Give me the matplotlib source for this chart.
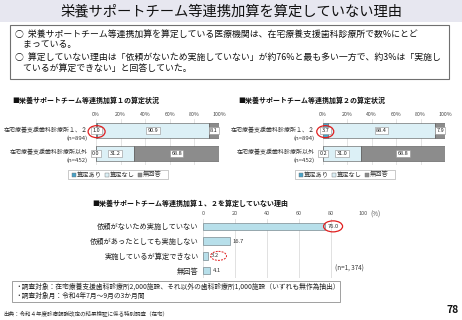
import matplotlib
matplotlib.use("Agg")
import matplotlib.pyplot as plt
from matplotlib.patches import Rectangle, Ellipse
import numpy as np

plt.rcParams['font.family'] = ['Noto Sans CJK JP', 'DejaVu Sans']

W, H = 462, 320

# ---------------- data ----------------
title = "栄養サポートチーム等連携加算を算定していない理由"
box_lines = [
    "○  栄養サポートチーム等連携加算を算定している医療機関は、在宅療養支援歯科診療所で数%にとど",
    "    まっている。",
    "○  算定していない理由は「依頼がないため実施していない」が約76%と最も多い一方で、約3%は「実施し",
    "    ているが算定できない」と回答していた。",
]
cats = ["在宅療養支援歯科診療所１、２", "在宅療養支援歯科診療所以外"]
ns = ["(n=894)", "(n=452)"]
legend_labels = ["算定あり", "算定なし", "無回答"]
pct_ticks = [0, 20, 40, 60, 80, 100]
pct_ticklabels = ["0%", "20%", "40%", "60%", "80%", "100%"]

k1_title = "■栄養サポートチーム等連携加算１の算定状況"
k1_yes = [1.0, 0.0]
k1_no = [90.9, 31.2]
k1_na = [8.1, 68.8]

k2_title = "■栄養サポートチーム等連携加算２の算定状況"
k2_yes = [3.7, 0.2]
k2_no = [88.4, 31.0]
k2_na = [7.9, 68.8]

r_title = "■栄養サポートチーム等連携加算１、２を算定していない理由"
reasons = ["依頼がないため実施していない", "依頼があったとしても実施しない",
           "実施しているが算定できない", "無回答"]
reason_vals = [76.0, 16.7, 3.2, 4.1]
reason_n = "(n=1, 374)"
r_ticks = [0, 20, 40, 60, 80, 100]

notes = ["・調査対象：在宅療養支援歯科診療所2,000施設、それ以外の歯科診療所1,000施設（いずれも無作為抽出）",
         "・調査対象月：令和4年7月～9月の3か月間"]
source = "出典：令和４年度診療報酬改定の結果検証に係る特別調査（在宅）"
page = "78"

# ---------------- style ----------------
c_yes = "#4aa3c8"
c_no = "#dcf0f6"
c_na = "#8c8c8c"
c_edge = "#505050"
c_reason = "#b7dfea"

fig = plt.figure(figsize=(W / 100, H / 100), dpi=100)
fig.patch.set_facecolor("white")


def fx(x):
    return x / W


def fy(y):
    return 1 - y / H


def add_ax(x0, y0, x1, y1):
    return fig.add_axes([fx(x0), fy(y1), (x1 - x0) / W, (y1 - y0) / H])


# title band
fig.patches.append(Rectangle((0, fy(22)), 1, 22 / H, transform=fig.transFigure,
                             facecolor="#e7e7f0", edgecolor="none", zorder=0))
fig.text(fx(232), fy(11), title, fontsize=10.3, ha="center", va="center", color="#111111")

# summary box
fig.patches.append(Rectangle((fx(10), fy(79)), (449 - 10) / W, (79 - 25) / H,
                             transform=fig.transFigure, facecolor="white",
                             edgecolor="#707070", lw=0.8, zorder=1))
for yy, t in zip([34, 45, 57, 68], box_lines):
    fig.text(fx(15), fy(yy), t, fontsize=6.4, ha="left", va="center", color="#111111")


def stacked(x0, x1, title_x, ttl, yes, no, na, lab_right, ell_w):
    fig.text(fx(title_x), fy(100), ttl, fontsize=5.0, fontweight="bold", ha="left",
             va="center", color="#111111")
    ax = add_ax(x0, 119, x1, 165)
    y = np.arange(len(cats))
    h = 0.66
    ax.barh(y, yes, height=h, color=c_yes, edgecolor=c_edge, lw=0.4, zorder=3)
    ax.barh(y, no, left=yes, height=h, color=c_no, edgecolor=c_edge, lw=0.4, zorder=3)
    left2 = np.array(yes) + np.array(no)
    ax.barh(y, na, left=left2, height=h, color=c_na, edgecolor=c_edge, lw=0.4, zorder=3)
    bb = dict(boxstyle="square,pad=0.25", fc="white", ec="#909090", lw=0.4)
    for i in range(len(cats)):
        segs = [(yes[i], 0), (no[i], yes[i]), (na[i], left2[i])]
        for v, l in segs:
            ax.text(l + v / 2, y[i], f"{v:.1f}", fontsize=4.0, ha="center", va="center",
                    bbox=bb, zorder=5, color="#222222")
    ax.set_xlim(0, 100)
    ax.set_ylim(1.5, -0.5)
    ax.xaxis.tick_top()
    ax.set_xticks(pct_ticks)
    ax.set_xticklabels(pct_ticklabels, fontsize=3.8, color="#444444")
    ax.tick_params(axis="x", length=0, pad=1.5)
    ax.set_yticks([])
    for s in ax.spines.values():
        s.set_visible(False)
    ax.grid(axis="x", color="#d0d0d0", lw=0.4, zorder=0)
    # category labels
    for i in range(len(cats)):
        yc = [130, 152][i]
        fig.text(fx(lab_right), fy(yc), cats[i], fontsize=4.3, ha="right", va="center",
                 color="#333333")
        fig.text(fx(lab_right), fy(yc + 8.5), ns[i], fontsize=4.3, ha="right", va="center",
                 color="#333333")
    # red ellipse round the first label of the first row
    pxw = 100 / (x1 - x0)
    pyh = 2 / (165 - 119)
    ax.add_patch(Ellipse((yes[0] / 2, 0.05), ell_w * pxw, 12 * pyh, fill=False,
                         ec="#e02020", lw=0.9, zorder=6, clip_on=False))
    # legend
    lx0 = x0 - 28
    fig.patches.append(Rectangle((fx(lx0), fy(179)), 100 / W, 9 / H, transform=fig.transFigure,
                                 facecolor="white", edgecolor="#a0a0a0", lw=0.4))
    cols = [c_yes, c_no, c_na]
    offs = [4, 37, 70]
    for c, o, lab in zip(cols, offs, legend_labels):
        fig.patches.append(Rectangle((fx(lx0 + o), fy(176.5)), 3.5 / W, 3.5 / H,
                                     transform=fig.transFigure, facecolor=c,
                                     edgecolor="#707070", lw=0.3))
        fig.text(fx(lx0 + o + 5), fy(174.5), lab, fontsize=4.5, ha="left", va="center",
                 color="#333333")
    return ax


stacked(96, 219, 12, k1_title, k1_yes, k1_no, k1_na, 88, 17)
stacked(323, 445, 238, k2_title, k2_yes, k2_no, k2_na, 315, 17)

# ---------------- reasons chart ----------------
fig.text(fx(92), fy(203), r_title, fontsize=5.0, fontweight="bold", ha="left", va="center",
         color="#111111")
ax3 = add_ax(203, 219, 363, 278)
y3 = np.arange(len(reasons))
ax3.barh(y3, reason_vals, height=0.52, color=c_reason, edgecolor="#7a8a90", lw=0.5, zorder=3)
for i, v in enumerate(reason_vals):
    ax3.text(v + 1.8, y3[i], f"{v:.1f}", fontsize=4.2, ha="left", va="center", color="#333333",
             zorder=5)
ax3.set_xlim(0, 100)
ax3.set_ylim(3.5, -0.5)
ax3.xaxis.tick_top()
ax3.set_xticks(r_ticks)
ax3.set_xticklabels([str(t) for t in r_ticks], fontsize=4.0, color="#555555")
ax3.tick_params(axis="x", length=0, pad=2)
ax3.set_yticks(y3)
ax3.set_yticklabels(reasons, fontsize=5.2, color="#222222")
ax3.tick_params(axis="y", length=0, pad=3)
for s in ax3.spines.values():
    s.set_visible(False)
ax3.grid(axis="x", color="#d4d4d4", lw=0.5, zorder=0)
ax3.text(108, -0.5, "(%)", fontsize=4.5, ha="center", va="bottom", color="#555555",
         transform=ax3.transData, clip_on=False)
fig.text(fx(335), fy(269), reason_n, fontsize=4.5, ha="left", va="center", color="#333333")
px3 = 100 / 160
py3 = 4 / 59
ax3.add_patch(Ellipse((reason_vals[0] + 5.3, 0), 19 * px3, 11 * py3, fill=False,
                      ec="#e02020", lw=0.9, zorder=6, clip_on=False))
ax3.add_patch(Ellipse((reason_vals[2] + 6.5, 2), 16 * px3, 9 * py3, fill=False,
                      ec="#e02020", lw=0.7, ls=(0, (2, 1.2)), zorder=6, clip_on=False))

# notes box
fig.patches.append(Rectangle((fx(12), fy(302)), (340 - 12) / W, (302 - 281) / H,
                             transform=fig.transFigure, facecolor="white",
                             edgecolor="#909090", lw=0.6))
fig.text(fx(15), fy(286.5), notes[0], fontsize=4.85, ha="left", va="center", color="#222222")
fig.text(fx(15), fy(296), notes[1], fontsize=4.85, ha="left", va="center", color="#222222")
fig.text(fx(3), fy(313), source, fontsize=4.0, ha="left", va="center", color="#333333")
fig.text(fx(453), fy(310), page, fontsize=7.5, fontweight="bold", ha="center", va="center",
         color="#111111")

fig.savefig("out.png", dpi=100)
